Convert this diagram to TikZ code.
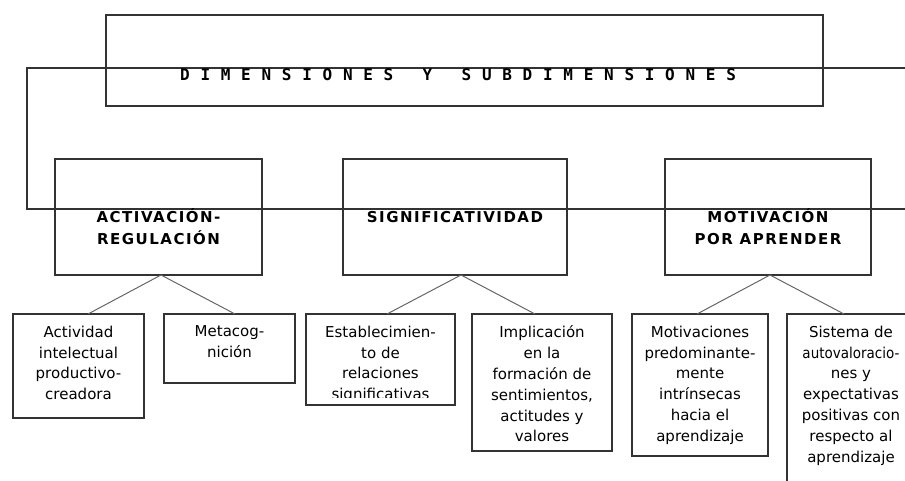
\documentclass[tikz,border=0pt]{standalone}
\usepackage{fontspec}
\setmainfont{DejaVu Sans}
\newfontfamily\titlefont[LetterSpace=67]{DejaVu Sans Mono}
\newfontfamily\headfont[LetterSpace=10]{DejaVu Sans}
\tikzset{
  box/.style={draw=black!80, line width=1.1pt, rectangle, inner sep=0pt, outer sep=0pt, anchor=north west},
  frame/.style={draw=black!80, line width=1.1pt},
  link/.style={draw=black!60, line width=1pt},
  headtxt/.style={align=center, inner sep=0pt, anchor=north, font=\headfont\bfseries\fontsize{15}{22}\selectfont},
  subtxt/.style={align=center, inner sep=0pt, anchor=north, font=\fontsize{15}{20.8}\selectfont},
  titletxt/.style={inner sep=0pt, anchor=base west, font=\titlefont\bfseries\fontsize{16}{18}\selectfont}
}
\begin{document}
\begin{tikzpicture}[x=1pt, y=-1pt]
\useasboundingbox (0,0) rectangle (905,480);
\begin{scope}
\clip (0,0) rectangle (905,480);
% title box and open frame
\node[box, minimum width=717pt, minimum height=91pt] (top) at (106,15) {};
\draw[frame] (920,68) -- (27,68) -- (27,209) -- (920,209);
\node[titletxt] (title) at (180,80) {DIMENSIONES\hspace{9pt} Y\hspace{9pt} SUBDIMENSIONES};
% dimensions
\node[box, minimum width=207pt, minimum height=116pt] (b1) at (55,159) {};
\node[box, minimum width=224pt, minimum height=116pt] (b2) at (343,159) {};
\node[box, minimum width=206pt, minimum height=116pt] (b3) at (665,159) {};
\node[headtxt] (h1) at (158.5,208.5) {\vphantom{Ó}ACTIVACIÓN-\\REGULACIÓN};
\node[headtxt] (h2) at (455,208.5) {\vphantom{Ó}SIGNIFICATIVIDAD};
\node[headtxt] (h3) at (768,208.5) {\vphantom{Ó}MOTIVACIÓN\\POR APRENDER};
% subdimensions
\node[box, minimum width=131pt, minimum height=104pt] (c1) at (13,314) {};
\node[box, minimum width=131pt, minimum height=69pt] (c2) at (164,314) {};
\node[box, minimum width=149pt, minimum height=91pt] (c3) at (306,314) {};
\node[box, minimum width=140pt, minimum height=137pt] (c4) at (472,314) {};
\node[box, minimum width=136pt, minimum height=142pt] (c5) at (632,314) {};
\node[box, minimum width=128pt, minimum height=220pt] (c6) at (787,314) {};
\node[subtxt] (t1) at (78.5,325.6) {Actividad\\intelectual\\productivo-\\creadora};
\node[subtxt] (t2) at (229.5,325.6) {Metacog-\\nición};
\begin{scope}
\clip ([yshift=8pt]c3.south west) rectangle (c3.north east);
\node[subtxt] (t3) at (380.5,325.6) {Establecimien-\\to de\\relaciones\\significativas};
\end{scope}
\node[subtxt] (t4) at (542,325.6) {Implicación\\en la\\formación de\\sentimientos,\\actitudes y\\valores};
\node[subtxt] (t5) at (700,325.6) {Motivaciones\\predominante-\\mente\\intrínsecas\\hacia el\\aprendizaje};
\node[subtxt] (t6) at (851,325.6) {Sistema de\\\scalebox{0.9}[1]{autovaloracio-}\\nes y\\expectativas\\positivas con\\respecto al\\aprendizaje};
% connectors
\draw[link] ([xshift=2.5pt]b1.south) -- ([xshift=9.5pt]c1.north);
\draw[link] ([xshift=2.5pt]b1.south) -- ([xshift=5.5pt]c2.north);
\draw[link] ([xshift=6pt]b2.south) -- ([xshift=6.5pt]c3.north);
\draw[link] ([xshift=6pt]b2.south) -- ([xshift=-7pt]c4.north);
\draw[link] ([xshift=2pt]b3.south) -- ([xshift=-3pt]c5.north);
\draw[link] ([xshift=2pt]b3.south) -- ([xshift=-7pt]c6.north);
\end{scope}
\end{tikzpicture}
\end{document}
